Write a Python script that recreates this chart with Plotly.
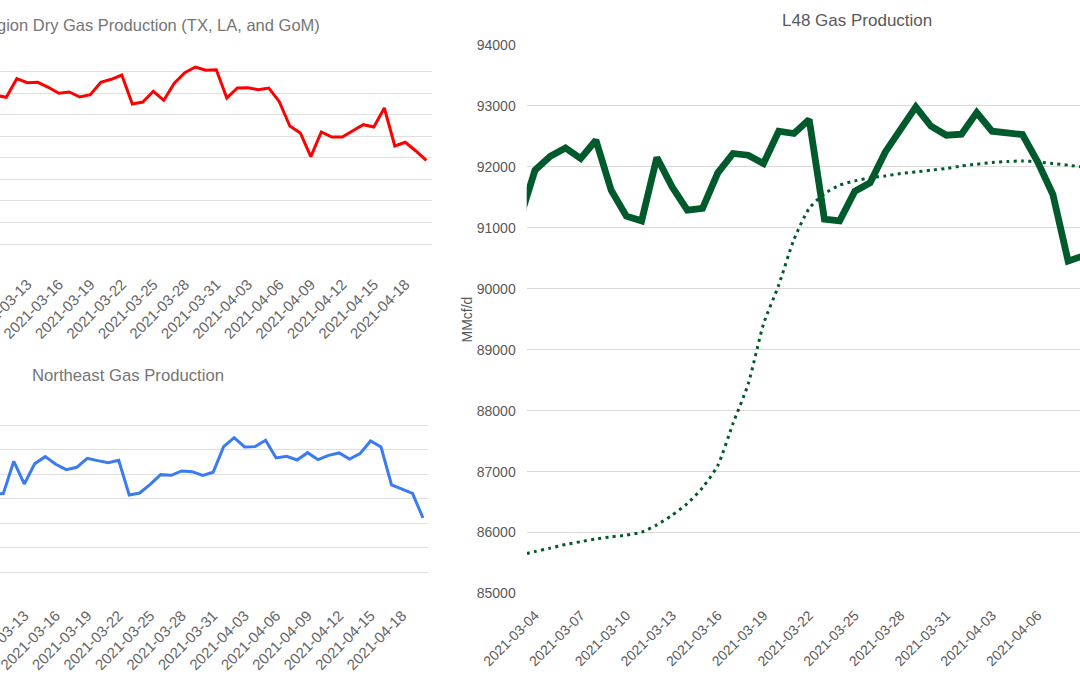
import pandas as pd
import plotly.graph_objects as go

W, H = 1080, 675

# ---------------- data ----------------
gulf_dates = pd.date_range("2021-03-10", "2021-04-20", freq="D")
gulf_vals = [37900, 37807, 38670, 38484, 38503, 38271, 37993, 38053, 37821, 37928,
             38503, 38642, 38841, 37497, 37589, 38085, 37668, 38456, 38948, 39212,
             39059, 39087, 37775, 38238, 38252, 38160, 38238, 37603, 36477, 36152,
             35053, 36199, 35967, 35967, 36259, 36537, 36430, 37311, 35549, 35721,
             35318, 34886]

ne_dates = pd.date_range("2021-03-10", "2021-04-20", freq="D")
ne_vals = [34190, 34212, 35530, 34606, 35435, 35720, 35408, 35190, 35285, 35652,
           35557, 35476, 35571, 34158, 34239, 34592, 34986, 34959, 35136, 35109,
           34959, 35082, 36128, 36495, 36114, 36128, 36386, 35666, 35734, 35584,
           35883, 35598, 35774, 35870, 35625, 35842, 36359, 36114, 34565, 34402,
           34226, 33220]

l48_dates = pd.date_range("2021-03-03", "2021-04-09", freq="D")
l48_vals = [91140, 91946, 92175, 92311, 92138, 92437, 91618, 91192, 91115, 92154,
            91672, 91290, 91318, 91902, 92220, 92192, 92056, 92585, 92548, 92777,
            91143, 91115, 91602, 91738, 92246, 92630, 92984, 92667, 92520, 92536,
            92892, 92585, 92557, 92531, 92082, 91548, 90454, 90540]
l48_trend = [85625, 85689, 85744, 85805, 85850, 85895, 85930, 85957, 86006, 86126,
             86285, 86475, 86738, 87100, 87790, 88440, 89420, 90060, 90810, 91320,
             91560, 91700, 91770, 91820, 91852, 91891, 91918, 91946, 91973, 92016,
             92044, 92071, 92088, 92098, 92082, 92055, 92028, 91995]

gulf_title = "gion Dry Gas Production (TX, LA, and GoM)"
ne_title = "Northeast Gas Production"
l48_title = "L48 Gas Production"
l48_ytitle = "MMcf/d"

# ---------------- figure ----------------
FONT = "Liberation Sans, Arial, sans-serif"
fig = go.Figure()

fig.add_trace(go.Scatter(x=gulf_dates, y=gulf_vals, mode="lines",
                         line=dict(color="#ff0000", width=3),
                         xaxis="x", yaxis="y", showlegend=False))
fig.add_trace(go.Scatter(x=ne_dates, y=ne_vals, mode="lines",
                         line=dict(color="#3a7af2", width=3),
                         xaxis="x2", yaxis="y2", showlegend=False))
fig.add_trace(go.Scatter(x=l48_dates, y=l48_trend, mode="lines",
                         line=dict(color="#005a2b", width=3, dash="3px,4.3px",
                                   shape="spline", smoothing=0.6),
                         xaxis="x3", yaxis="y3", showlegend=False))
fig.add_trace(go.Scatter(x=l48_dates, y=l48_vals, mode="lines",
                         line=dict(color="#005a2b", width=6.8),
                         xaxis="x3", yaxis="y3", showlegend=False))

DAY3 = 3 * 24 * 3600 * 1000
xcommon = dict(type="date", tick0="2021-03-04", dtick=DAY3, tickformat="%Y-%m-%d",
               tickangle=-45, showgrid=False, zeroline=False, showline=False,
               ticks="", fixedrange=True, automargin=False,
               ticklabeloverflow="allow")
left_tick_font = dict(family=FONT, size=15, color="#666666")
right_tick_font = dict(family=FONT, size=14, color="#595959")

fig.update_layout(
    width=W, height=H, margin=dict(l=0, r=0, t=0, b=0, pad=0, autoexpand=False),
    paper_bgcolor="white", plot_bgcolor="white",
    xaxis=dict(xcommon, domain=[0, 432 / W], anchor="y",
               range=["2021-03-10 09:36", "2021-04-20 12:58"],
               tickfont=left_tick_font, ticklabelstandoff=6),
    yaxis=dict(domain=[1 - 265.7 / H, 1 - 50 / H], anchor="x",
               range=[30000, 40000], dtick=1000, showgrid=True,
               gridcolor="#e0e0e0", gridwidth=1, zeroline=False,
               showticklabels=False, ticks="", automargin=False, fixedrange=True),
    xaxis2=dict(xcommon, domain=[0, 427.7 / W], anchor="y2",
                range=["2021-03-10 16:28", "2021-04-20 10:45"],
                tickfont=left_tick_font, ticklabelstandoff=6),
    yaxis2=dict(domain=[1 - 597 / H, 1 - 400.7 / H], anchor="x2",
                range=[30000, 38000], dtick=1000, showgrid=True,
                gridcolor="#e0e0e0", gridwidth=1, zeroline=False,
                showticklabels=False, ticks="", automargin=False, fixedrange=True),
    xaxis3=dict(xcommon, domain=[526.7 / W, 1], anchor="y3",
                range=["2021-03-03 10:55", "2021-04-08 18:43"],
                tickfont=right_tick_font, ticklabelstandoff=10),
    yaxis3=dict(domain=[1 - 593.5 / H, 1 - 45 / H], anchor="x3",
                range=[85000, 94000], dtick=1000, tickformat="d", showgrid=True,
                gridcolor="#d9d9d9", gridwidth=1, zeroline=False,
                tickfont=right_tick_font, ticks="", ticklabelstandoff=10,
                automargin=False, fixedrange=True),
)

fig.add_annotation(text=gulf_title, xref="paper", yref="paper",
                   x=322 / W, y=1 - 25 / H, xanchor="right", yanchor="middle",
                   showarrow=False, font=dict(family=FONT, size=16.5, color="#757575"))
fig.add_annotation(text=ne_title, xref="paper", yref="paper",
                   x=30 / W, y=1 - 375 / H, xanchor="left", yanchor="middle",
                   showarrow=False, font=dict(family=FONT, size=16.7, color="#757575"))
fig.add_annotation(text=l48_title, xref="paper", yref="paper",
                   x=857 / W, y=1 - 20 / H, xanchor="center", yanchor="middle",
                   showarrow=False, font=dict(family=FONT, size=17, color="#595959"))
fig.add_annotation(text=l48_ytitle, xref="paper", yref="paper",
                   x=466 / W, y=1 - 319.5 / H, xanchor="center", yanchor="middle",
                   textangle=-90, showarrow=False,
                   font=dict(family=FONT, size=14, color="#595959"))

fig.write_html("out.html")
